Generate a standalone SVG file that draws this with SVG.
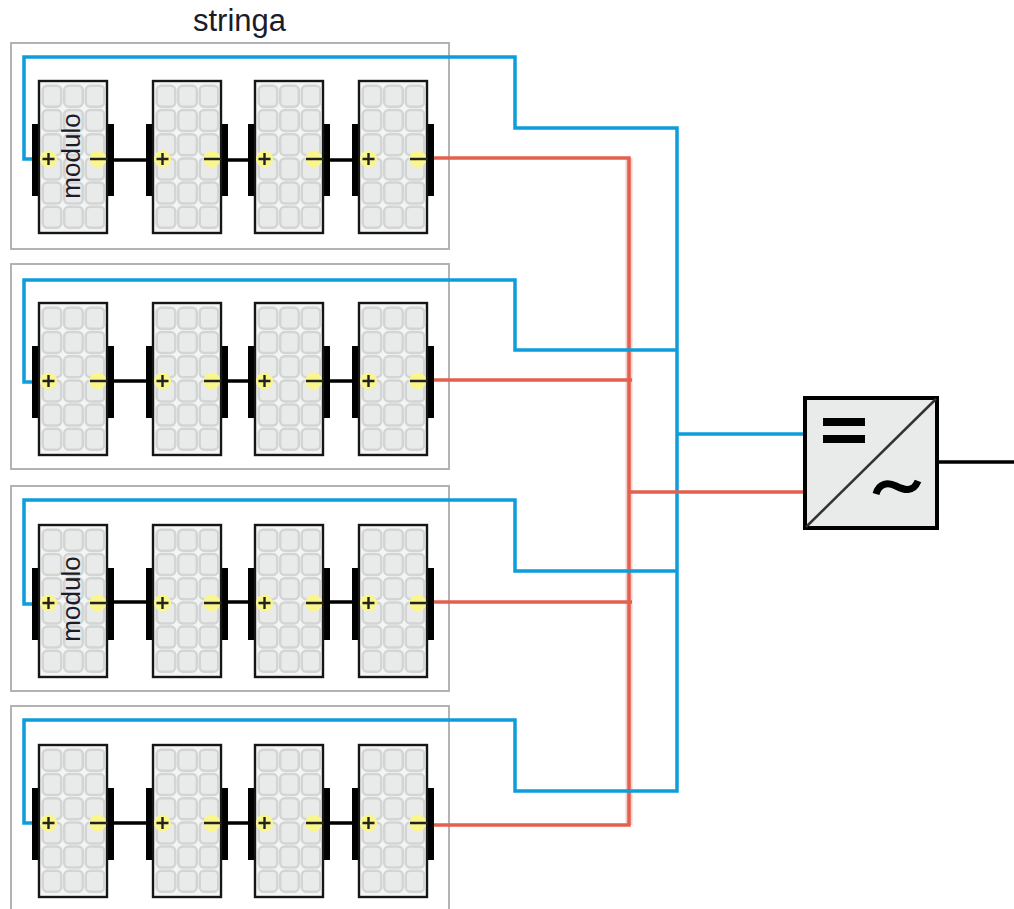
<svg xmlns="http://www.w3.org/2000/svg" width="1014" height="909" viewBox="0 0 1014 909">
<style>
.frame{fill:none;stroke:#b3b3b3;stroke-width:2}
.wire{fill:none;stroke-width:3.5;stroke-linejoin:miter}
.blue{stroke:#0d9ddb}
.red{stroke:#e3604f}
.halo{stroke:#e3604f;stroke-width:7;opacity:.3;fill:none}
.black{stroke:#000}
.panel{fill:#f3f4f4;stroke:#161616;stroke-width:2.4}
.cell{fill:#e9eaea;stroke:#d3d4d4;stroke-width:2.5}
.bar{fill:#000}
.dot{fill:#faf68e}
.sign{stroke:#222;stroke-width:2.4;fill:none}
.lbl{font-family:"Liberation Sans",Arial,sans-serif;fill:#1b1b2a}
</style>
<defs>
<g id="mod">
<rect class="bar" x="-7" y="43" width="8" height="72"/>
<rect class="bar" x="67" y="43" width="8" height="72"/>
<rect class="panel" x="0" y="0" width="68" height="152"/>
<g>
<rect class="cell" x="3.75" y="4.75" width="18.5" height="21" rx="4.5"/><rect class="cell" x="25.25" y="4.75" width="18.5" height="21" rx="4.5"/><rect class="cell" x="46.75" y="4.75" width="18.5" height="21" rx="4.5"/>
<rect class="cell" x="3.75" y="29" width="18.5" height="21" rx="4.5"/><rect class="cell" x="25.25" y="29" width="18.5" height="21" rx="4.5"/><rect class="cell" x="46.75" y="29" width="18.5" height="21" rx="4.5"/>
<rect class="cell" x="3.75" y="53.2" width="18.5" height="21" rx="4.5"/><rect class="cell" x="25.25" y="53.2" width="18.5" height="21" rx="4.5"/><rect class="cell" x="46.75" y="53.2" width="18.5" height="21" rx="4.5"/>
<rect class="cell" x="3.75" y="77.4" width="18.5" height="21" rx="4.5"/><rect class="cell" x="25.25" y="77.4" width="18.5" height="21" rx="4.5"/><rect class="cell" x="46.75" y="77.4" width="18.5" height="21" rx="4.5"/>
<rect class="cell" x="3.75" y="101.6" width="18.5" height="21" rx="4.5"/><rect class="cell" x="25.25" y="101.6" width="18.5" height="21" rx="4.5"/><rect class="cell" x="46.75" y="101.6" width="18.5" height="21" rx="4.5"/>
<rect class="cell" x="3.75" y="125.8" width="18.5" height="21" rx="4.5"/><rect class="cell" x="25.25" y="125.8" width="18.5" height="21" rx="4.5"/><rect class="cell" x="46.75" y="125.8" width="18.5" height="21" rx="4.5"/>
</g>
<circle class="dot" cx="9.5" cy="78" r="8.5"/>
<circle class="dot" cx="58.7" cy="78" r="8.5"/>
<path class="sign" d="M3.5 78H15.5M9.5 72V84M51 78H67"/>
</g>
</defs>

<text class="lbl" id="label-stringa" x="239.500" y="31" font-size="31" text-anchor="middle">stringa</text>

<g id="frames">
<rect id="string-1" class="frame" x="11" y="43" width="438" height="206"/>
<rect id="string-2" class="frame" x="11" y="264" width="438" height="205"/>
<rect id="string-3" class="frame" x="11" y="486" width="438" height="205"/>
<path id="string-4" class="frame" d="M11 909V706H449V909"/>
</g>

<g id="connectors">
<path class="halo" d="M629 158V825"/>
<path class="wire red" d="M434 158H629V825H434"/>
<path class="wire red" d="M434 380H632"/>
<path class="wire red" d="M434 602H632"/>
<path class="wire blue" d="M33 159H24V57H515V128H677V791H515V720H24V823H33"/>
<path class="wire blue" d="M33 382H24V280H515V350H677"/>
<path class="wire blue" d="M33 604H24V500H515V571H677"/>
<path class="wire blue" d="M677 434H804"/>
<path class="wire red" d="M629 492H804"/>
<path class="wire black" d="M938 462H1014"/>
<path class="wire black" d="M110 160H150M218 160H252M320 160H355"/>
<path class="wire black" d="M110 381H150M218 381H252M320 381H355"/>
<path class="wire black" d="M110 602H150M218 602H252M320 602H355"/>
<path class="wire black" d="M110 823H150M218 823H252M320 823H355"/>
</g>

<g id="module-1-1"><use href="#mod" x="39" y="81"/></g>
<g id="module-1-2"><use href="#mod" x="153" y="81"/></g>
<g id="module-1-3"><use href="#mod" x="255" y="81"/></g>
<g id="module-1-4"><use href="#mod" x="359" y="81"/></g>
<g id="module-2-1"><use href="#mod" x="39" y="303"/></g>
<g id="module-2-2"><use href="#mod" x="153" y="303"/></g>
<g id="module-2-3"><use href="#mod" x="255" y="303"/></g>
<g id="module-2-4"><use href="#mod" x="359" y="303"/></g>
<g id="module-3-1"><use href="#mod" x="39" y="525"/></g>
<g id="module-3-2"><use href="#mod" x="153" y="525"/></g>
<g id="module-3-3"><use href="#mod" x="255" y="525"/></g>
<g id="module-3-4"><use href="#mod" x="359" y="525"/></g>
<g id="module-4-1"><use href="#mod" x="39" y="745"/></g>
<g id="module-4-2"><use href="#mod" x="153" y="745"/></g>
<g id="module-4-3"><use href="#mod" x="255" y="745"/></g>
<g id="module-4-4"><use href="#mod" x="359" y="745"/></g>

<text class="lbl" id="label-modulo-1" transform="translate(80 156) rotate(-90)" font-size="26" text-anchor="middle">modulo</text>
<text class="lbl" id="label-modulo-2" transform="translate(80 599) rotate(-90)" font-size="26" text-anchor="middle">modulo</text>

<g id="inverter">
<rect x="805" y="398" width="132" height="130" fill="#e9eaea" stroke="#000" stroke-width="4"/>
<path d="M806 527L936 399" stroke="#333" stroke-width="2.5" fill="none"/>
<rect x="823" y="418" width="42" height="8" fill="#000"/>
<rect x="823" y="435" width="42" height="8" fill="#000"/>
<path d="M876 494C879 483 888 482 896 486C904 490 913 493 918 481" fill="none" stroke="#000" stroke-width="7"/>
</g>
</svg>
